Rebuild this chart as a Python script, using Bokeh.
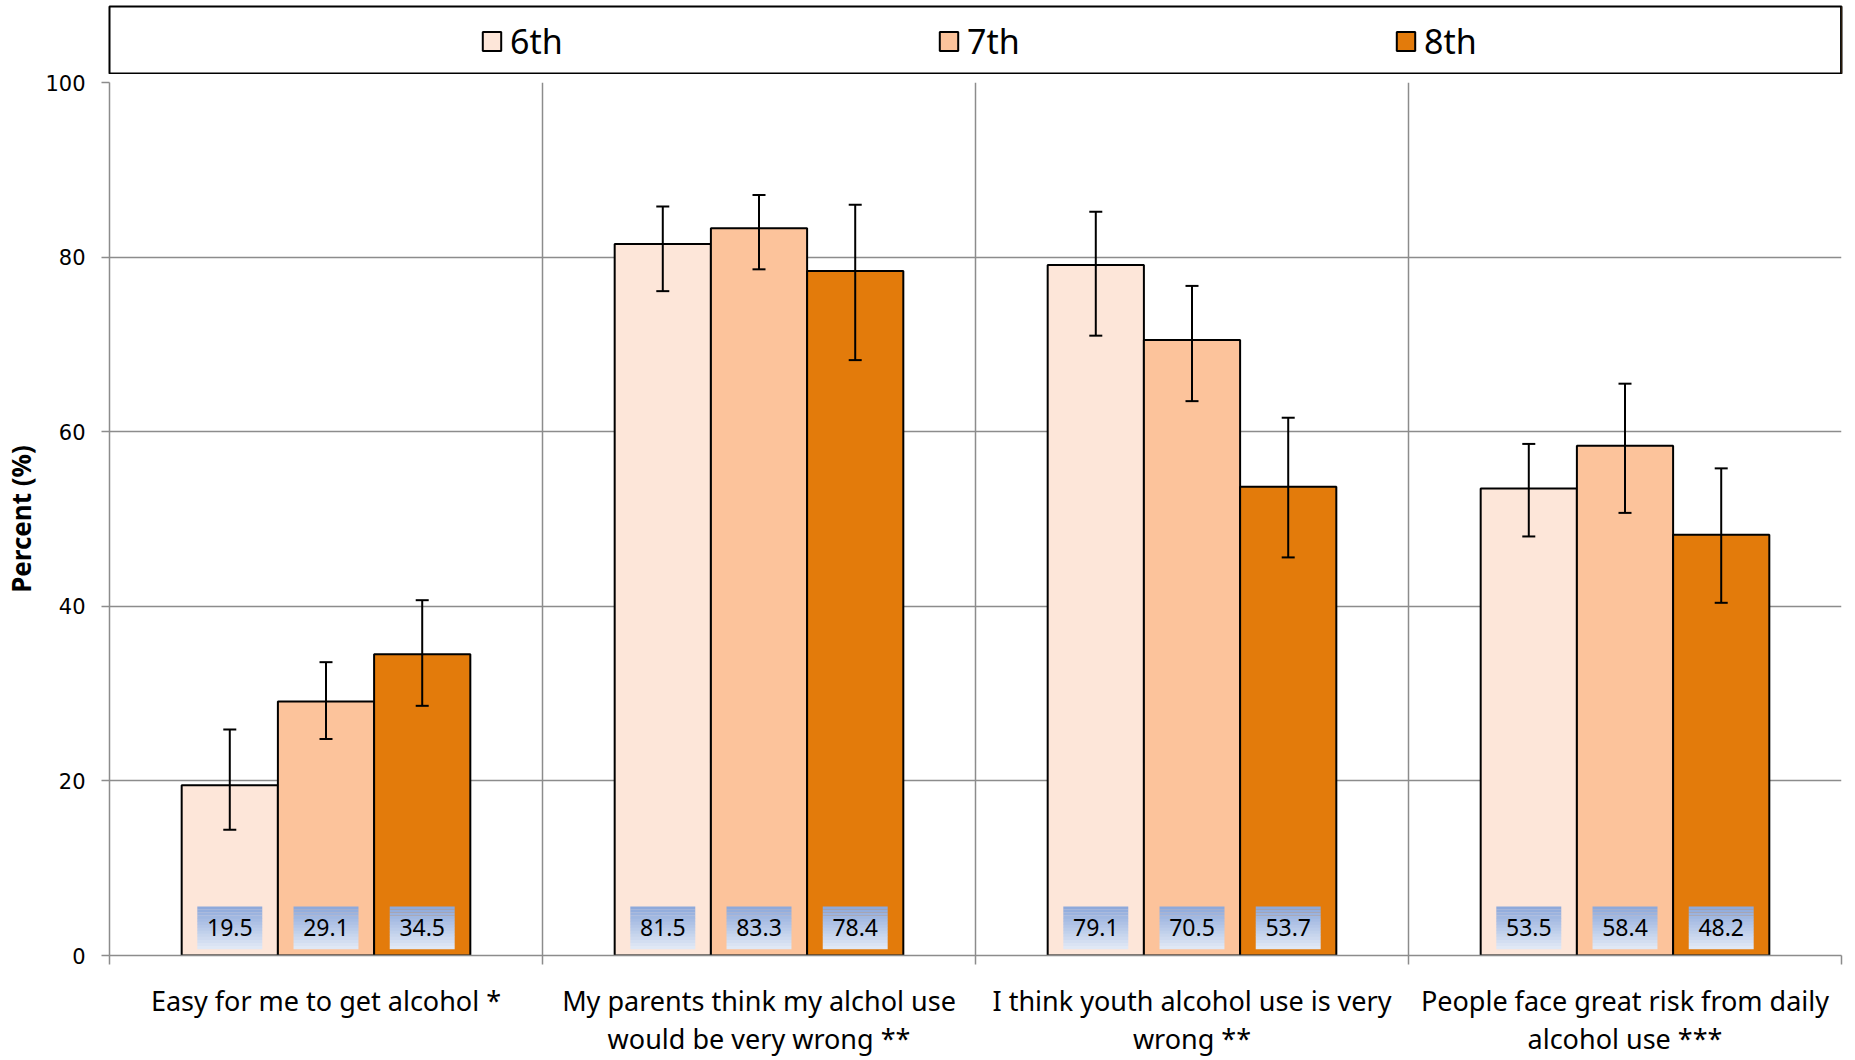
from bokeh.plotting import figure
from bokeh.models import (Range1d, LinearAxis, FixedTicker, Grid, Whisker, TeeHead,
                          ColumnDataSource, Legend, LegendItem)
from bokeh.layouts import column
from bokeh.embed import file_html
from bokeh.resources import INLINE
from bokeh.core.properties import value

# ---------------- data ----------------
categories = [
    "Easy for me to get alcohol *",
    "My parents think my alchol use\nwould be very wrong **",
    "I think youth alcohol use is very\nwrong **",
    "People face great risk from daily\nalcohol use ***",
]
grades = ["6th", "7th", "8th"]
v6 = [19.5, 81.5, 79.1, 53.5]
v7 = [29.1, 83.3, 70.5, 58.4]
v8 = [34.5, 78.4, 53.7, 48.2]
upper6 = [25.9, 85.8, 85.2, 58.6]
lower6 = [14.4, 76.1, 71.0, 48.0]
upper7 = [33.6, 87.1, 76.7, 65.5]
lower7 = [24.8, 78.6, 63.5, 50.7]
upper8 = [40.7, 86.0, 61.6, 55.8]
lower8 = [28.6, 68.2, 45.6, 40.4]
y_ticks = [0, 20, 40, 60, 80, 100]

values = [v6, v7, v8]
uppers = [upper6, upper7, upper8]
lowers = [lower6, lower7, lower8]
colors = ["#FDE6D9", "#FCC39B", "#E37B0B"]

GRID = "#8C8C8C"
BAR_W = 0.2222
FONT = "Noto Sans"
OVERLAP = 12

# ---------------- main figure ----------------
p = figure(width=1855, height=986 + OVERLAP, x_range=Range1d(0, 4), y_range=Range1d(0, 100),
           toolbar_location=None, output_backend="svg",
           x_axis_location=None,
           min_border_left=108, min_border_right=12, min_border_top=8 + OVERLAP,
           min_border_bottom=104, margin=(-OVERLAP, 0, 0, 0))
p.outline_line_color = None
p.border_fill_alpha = 0
p.background_fill_alpha = 0
p.xgrid.visible = False

# y axis
p.yaxis.ticker = FixedTicker(ticks=y_ticks)
p.yaxis.axis_line_color = GRID
p.yaxis.axis_line_width = 1.5
p.yaxis.major_tick_line_color = GRID
p.yaxis.major_tick_line_width = 1.5
p.yaxis.major_tick_out = 8
p.yaxis.major_tick_in = 0
p.yaxis.minor_tick_line_color = None
p.yaxis.major_label_standoff = 16
p.yaxis.major_label_text_font = "DejaVu Sans"
p.yaxis.major_label_text_font_size = "21px"
p.yaxis.major_label_text_color = "black"
p.yaxis.axis_label = "Percent (%)"
p.yaxis.axis_label_text_font = FONT
p.yaxis.axis_label_text_font_style = "bold"
p.yaxis.axis_label_text_font_size = "26px"
p.yaxis.axis_label_text_color = "black"
p.yaxis.axis_label_standoff = 3

p.ygrid.ticker = FixedTicker(ticks=y_ticks)
p.ygrid.grid_line_color = GRID
p.ygrid.grid_line_width = 1.5

# vertical separators between categories
p.add_layout(Grid(dimension=0, ticker=FixedTicker(ticks=[1, 2, 3, 4]),
                  grid_line_color=GRID, grid_line_width=1.5))

# x axis with boundary ticks
axA = LinearAxis(ticker=FixedTicker(ticks=[0, 1, 2, 3, 4]),
                 major_label_overrides={i: "" for i in range(5)},
                 major_label_text_font_size="1px",
                 major_tick_out=9, major_tick_in=0,
                 major_tick_line_color=GRID, major_tick_line_width=1.5,
                 axis_line_color=GRID, axis_line_width=1.5,
                 minor_tick_line_color=None, major_label_standoff=0)
p.add_layout(axA, "below")

# x axis with category labels
centers = [i + 0.5 for i in range(len(categories))]
axB = LinearAxis(ticker=FixedTicker(ticks=centers),
                 major_label_overrides={c: lab for c, lab in zip(centers, categories)},
                 major_label_text_font=FONT, major_label_text_font_size="27px",
                 major_label_text_color="black",
                 major_label_text_line_height=1.05,
                 major_tick_out=0, major_tick_in=0, major_tick_line_color=None,
                 axis_line_color=None, minor_tick_line_color=None,
                 major_label_standoff=17)
p.add_layout(axB, "below")

# bars, labels, error bars
BOX_HALF = 0.075
BOX_BOT, BOX_TOP = 0.75, 5.6
top_rgb = (142, 169, 219)
bot_rgb = (224, 232, 245)
NSTRIP = 14

for k in range(3):
    xs = [i + 0.5 + (k - 1) * BAR_W for i in range(len(categories))]
    src = ColumnDataSource(dict(x=xs, top=values[k], upper=uppers[k], lower=lowers[k],
                                lab=[f"{v:.1f}" for v in values[k]]))
    p.vbar(x="x", top="top", width=BAR_W, bottom=0, source=src,
           fill_color=colors[k], line_color="black", line_width=2)
    # gradient label box
    h = (BOX_TOP - BOX_BOT) / NSTRIP
    for s in range(NSTRIP):
        t = s / (NSTRIP - 1)
        c = tuple(int(round(top_rgb[j] + (bot_rgb[j] - top_rgb[j]) * t)) for j in range(3))
        col = "#%02x%02x%02x" % c
        p.quad(left=[x - BOX_HALF for x in xs], right=[x + BOX_HALF for x in xs],
               top=[BOX_TOP - s * h] * len(xs), bottom=[BOX_TOP - (s + 1) * h - 0.02] * len(xs),
               fill_color=col, line_color=None)
    p.text(x="x", y=(BOX_TOP + BOX_BOT) / 2, text="lab", source=src,
           text_align="center", text_baseline="middle",
           text_font=value(FONT), text_font_size="23px", text_color="black")
    wh = Whisker(source=src, base="x", upper="upper", lower="lower",
                 line_color="black", line_width=2,
                 upper_head=TeeHead(size=13, line_color="black", line_width=2),
                 lower_head=TeeHead(size=13, line_color="black", line_width=2))
    wh.level = "overlay"
    p.add_layout(wh)

# ---------------- legend figure ----------------
pl = figure(width=1855, height=74, x_range=Range1d(0, 1), y_range=Range1d(0, 1),
            toolbar_location=None, output_backend="svg",
            x_axis_location=None, y_axis_location=None,
            min_border_left=106, min_border_right=14, min_border_top=6, min_border_bottom=1)
pl.xgrid.visible = False
pl.ygrid.visible = False
pl.outline_line_color = "black"
pl.outline_line_width = 2

items = []
for k in range(3):
    # swatch renderers sit outside the visible range; only their legend glyph shows
    rr = pl.vbar(x=[5], top=[1], width=0.1, fill_color=colors[k],
                 line_color="black", line_width=2)
    items.append(LegendItem(label=grades[k], renderers=[rr]))
leg = Legend(items=items, orientation="horizontal", location=(371, 9),
             spacing=373, label_width=54, label_height=40, glyph_width=23, glyph_height=24,
             label_standoff=7, border_line_color=None, background_fill_alpha=0,
             label_text_font=FONT, label_text_font_size="34px", label_text_color="black",
             padding=4, margin=0)
pl.add_layout(leg, "center")

layout = column(pl, p, spacing=0)
open("out.html", "w").write(file_html(layout, INLINE))
